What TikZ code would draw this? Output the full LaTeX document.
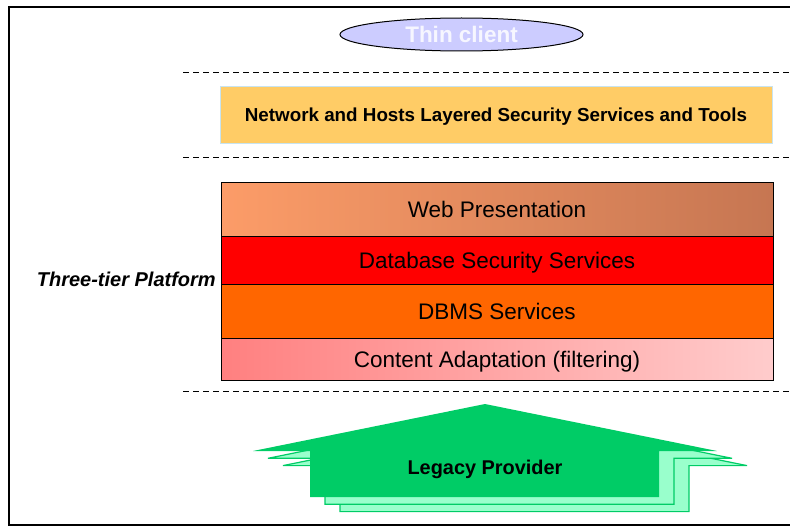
\documentclass[tikz,border=0pt]{standalone}
\usepackage{fontspec}
\setmainfont{Liberation Sans}
\usetikzlibrary{shapes.geometric}
\definecolor{lavender}{RGB}{204,204,255}
\definecolor{thintext}{RGB}{246,246,255}
\definecolor{bandyellow}{RGB}{255,204,102}
\definecolor{bandedge}{RGB}{200,228,240}
\definecolor{webL}{RGB}{252,156,104}
\definecolor{webR}{RGB}{198,118,82}
\definecolor{dbred}{RGB}{255,0,0}
\definecolor{dbmsorange}{RGB}{255,102,0}
\definecolor{caL}{RGB}{255,128,128}
\definecolor{caR}{RGB}{255,204,204}
\definecolor{lpgreen}{RGB}{0,204,102}
\definecolor{lplight}{RGB}{153,255,204}
\begin{document}
\begin{tikzpicture}[x=1pt,y=-1pt,
  layer/.style={text height=16pt, text depth=0pt, draw=black, line width=0.9pt,
    minimum width=552pt, inner sep=0pt, font=\fontsize{22.5}{26}\selectfont, text=black},
  sepline/.style={draw=black, line width=1.5pt, dash pattern=on 6pt off 4pt},
  arrowshadow/.style={fill=lplight, draw=lpgreen, line width=1.2pt, line join=miter},
  arrowmain/.style={fill=lpgreen}
]
\useasboundingbox (0,0) rectangle (790,527);
% frame
\draw[line width=2pt] (791,7) -- (8.5,7) -- (8.5,525) -- (791,525);

% thin client
\node (thin) [ellipse, text height=16pt, text depth=0pt, draw=black, line width=1pt,
  fill=lavender, minimum width=243pt, minimum height=33pt, inner sep=0pt, text=thintext,
  font=\fontsize{22.5}{26}\selectfont\bfseries] at (461.5,34.5) {Thin client};

% separators
\coordinate (s1a) at (183,72.5);  \coordinate (s1b) at (790,72.5);
\coordinate (s2a) at (183,157.5); \coordinate (s2b) at (790,157.5);
\coordinate (s3a) at (183,391.5); \coordinate (s3b) at (790,391.5);
\draw[sepline] (s1a) -- (s1b);
\draw[sepline] (s2a) -- (s2b);
\draw[sepline] (s3a) -- (s3b);

% network band
\node (net) [text height=13.5pt, text depth=0pt, draw=bandedge, line width=1pt,
  fill=bandyellow, minimum width=552pt, minimum height=56pt, inner sep=0pt,
  font=\fontsize{18.8}{22}\selectfont\bfseries]
  at (496,115) {Network and Hosts Layered Security Services and Tools};

% three-tier stack
\node (web) [layer, minimum height=54pt, left color=webL, right color=webR] at (497,209) {Web Presentation};
\node (dbsec) [layer, minimum height=48pt, fill=dbred] at (497,260) {Database Security Services};
\node (dbms) [layer, minimum height=54pt, fill=dbmsorange] at (497,311) {DBMS Services};
\node (ca) [layer, minimum height=42pt, left color=caL, right color=caR] at (497,359) {Content Adaptation (filtering)};

\node (tier) [text height=14.3pt, text depth=0pt, anchor=east, inner sep=0pt,
  font=\fontsize{20}{24}\selectfont\bfseries\itshape]
  at (216,279) {Three-tier Platform};

% legacy provider arrow
\foreach \dx/\dy in {30/14.6, 15/7.3}{
  \draw[arrowshadow, shift={(\dx,\dy)}] (485,404) -- (717,451) -- (659,451) -- (659,497)
    -- (310,497) -- (310,451) -- (253,451) -- cycle;
}
\fill[arrowmain] (485,404) -- (717,451) -- (659,451) -- (659,497)
    -- (310,497) -- (310,451) -- (253,451) -- cycle;
\node (legacy) [text height=14.3pt, text depth=0pt, inner sep=0pt,
  font=\fontsize{19.9}{24}\selectfont\bfseries] at (485,467) {Legacy Provider};
\end{tikzpicture}
\end{document}
